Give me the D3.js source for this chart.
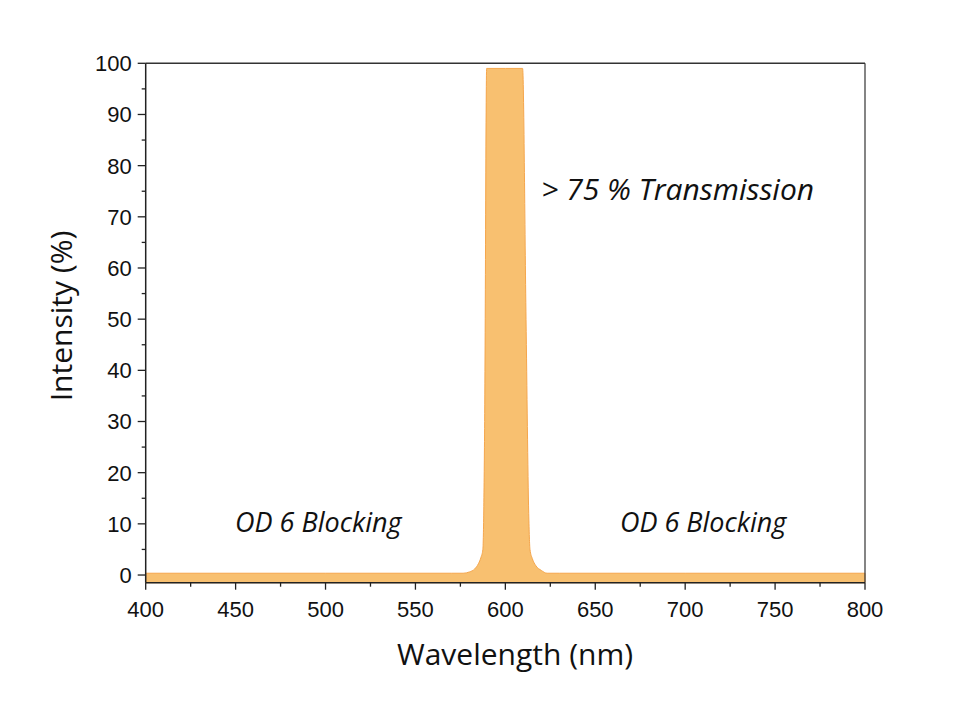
<!DOCTYPE html>
<html><head><meta charset="utf-8">
<script src="https://cdn.jsdelivr.net/npm/d3@7"></script>
<style>body{margin:0;background:#fff}svg{display:block}</style>
</head><body>
<svg id="c" width="960" height="723"></svg>
<script>
// Data: transmission spectrum (wavelength nm, intensity %)
const wavelengths = [400, 500, 570, 576.5, 580, 583, 585, 586.5, 587.5, 588.5, 589.6, 600, 609.6, 611.5, 613, 613.7, 615, 617, 620, 623.2, 630, 700, 800];
const intensities = [0.35, 0.35, 0.35, 0.35, 0.6, 1.2, 2.2, 3.5, 5, 30, 99, 99, 99, 50, 12, 5, 3.2, 1.8, 0.9, 0.35, 0.35, 0.35, 0.35];
const xTicks = [400, 450, 500, 550, 600, 650, 700, 750, 800];
const yTicks = [0, 10, 20, 30, 40, 50, 60, 70, 80, 90, 100];
const annotationTexts = ["> 75 % Transmission", "OD 6 Blocking", "OD 6 Blocking"];
const annotationX = [620, 496, 710];   // nm
const annotationY = [73.3, 8.4, 8.4];  // %

const svg = d3.select("#c");
const L = 145.7, R = 865, T = 63.3, B = 582.7;
const x = d3.scaleLinear().domain([400, 800]).range([L, R]);
const y = d3.scaleLinear().domain([-1.5, 100]).range([B, T]);

const data = wavelengths.map((w, i) => ({w, v: intensities[i]}));

// area
const area = d3.area().x(d => x(d.w)).y0(y(-1.5)).y1(d => y(d.v)).curve(d3.curveMonotoneX);
svg.append("path").datum(data).attr("d", area)
  .attr("fill", "#F8C070").attr("stroke", "#F5A64C").attr("stroke-width", 1);

// frame top & right
svg.append("line").attr("x1", L).attr("x2", R).attr("y1", T).attr("y2", T).attr("stroke", "#333").attr("stroke-width", 1.5);
svg.append("line").attr("x1", R).attr("x2", R).attr("y1", T).attr("y2", B).attr("stroke", "#333").attr("stroke-width", 1.2);

const tickFont = "Liberation Sans, Arial, sans-serif";
// x axis
const xMinor = d3.range(425, 800, 50);
const gx = svg.append("g").attr("transform", `translate(0,${B})`);
gx.append("line").attr("x1", L).attr("x2", R).attr("stroke", "#222").attr("stroke-width", 1.5);
gx.selectAll(".mj").data(xTicks).join("line").attr("x1", d => x(d)).attr("x2", d => x(d)).attr("y1", 0).attr("y2", 7).attr("stroke", "#222").attr("stroke-width", 1.3);
gx.selectAll(".mn").data(xMinor).join("line").attr("x1", d => x(d)).attr("x2", d => x(d)).attr("y1", 0).attr("y2", 4).attr("stroke", "#222").attr("stroke-width", 1.3);
gx.selectAll("text").data(xTicks).join("text").attr("x", d => x(d)).attr("y", 34)
  .attr("text-anchor", "middle").attr("font-family", tickFont).attr("font-size", 22).attr("fill", "#111").text(d => d);

// y axis
const yMinor = d3.range(5, 100, 10);
const gy = svg.append("g").attr("transform", `translate(${L},0)`);
gy.append("line").attr("y1", T).attr("y2", B).attr("stroke", "#222").attr("stroke-width", 1.5);
gy.selectAll(".mj").data(yTicks).join("line").attr("y1", d => y(d)).attr("y2", d => y(d)).attr("x1", 0).attr("x2", -8).attr("stroke", "#222").attr("stroke-width", 1.3);
gy.selectAll(".mn").data(yMinor).join("line").attr("y1", d => y(d)).attr("y2", d => y(d)).attr("x1", 0).attr("x2", -4).attr("stroke", "#222").attr("stroke-width", 1.3);
gy.selectAll("text").data(yTicks).join("text").attr("x", -14).attr("y", d => y(d)).attr("dy", "0.36em")
  .attr("text-anchor", "end").attr("font-family", tickFont).attr("font-size", 22).attr("fill", "#111").text(d => d);

// axis titles
svg.append("text").attr("x", 515).attr("y", 665).attr("text-anchor", "middle")
  .attr("font-family", "Open Sans, sans-serif").attr("font-size", 30).attr("fill", "#111").text("Wavelength (nm)");
svg.append("text").attr("transform", "translate(72,316) rotate(-90)").attr("text-anchor", "middle")
  .attr("font-family", "Open Sans, sans-serif").attr("font-size", 30).attr("fill", "#111").text("Intensity (%)");

// annotations
svg.selectAll(".ann").data(annotationTexts).join("text")
  .attr("x", (d, i) => x(annotationX[i])).attr("y", (d, i) => y(annotationY[i]))
  .attr("text-anchor", (d, i) => i === 0 ? "start" : "middle")
  .attr("font-family", "Open Sans, sans-serif").attr("font-style", "italic")
  .attr("font-size", (d, i) => i === 0 ? 30 : 27).attr("fill", "#111")
  .text(d => d);
</script>
</body></html>
